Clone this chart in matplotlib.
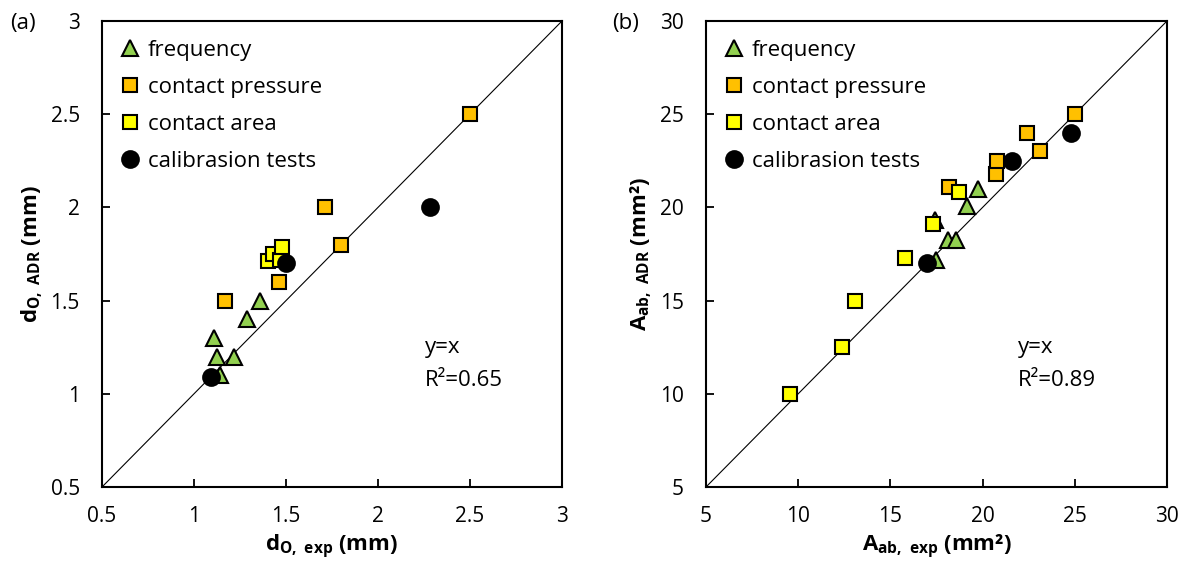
import matplotlib
matplotlib.use("Agg")
import matplotlib.pyplot as plt

plt.rcParams['font.family'] = ['Open Sans', 'DejaVu Sans']
plt.rcParams['mathtext.fontset'] = 'custom'
plt.rcParams['mathtext.rm'] = 'Open Sans'
plt.rcParams['mathtext.it'] = 'Open Sans'
plt.rcParams['mathtext.bf'] = 'Open Sans:bold'

# ---------------- data panel (a) ----------------
a_freq_x = [1.11, 1.125, 1.14, 1.22, 1.29, 1.36]
a_freq_y = [1.30, 1.20, 1.10, 1.20, 1.40, 1.50]
a_pres_x = [1.17, 1.46, 1.71, 1.80, 2.50]
a_pres_y = [1.50, 1.60, 2.00, 1.80, 2.50]
a_area_x = [1.40, 1.43, 1.47, 1.48]
a_area_y = [1.71, 1.75, 1.72, 1.79]
a_cal_x = [1.09, 1.50, 2.28]
a_cal_y = [1.09, 1.70, 2.00]

# ---------------- data panel (b) ----------------
b_freq_x = [17.4, 17.47, 18.1, 18.55, 19.15, 19.75]
b_freq_y = [19.3, 17.18, 18.25, 18.25, 20.1, 21.0]
b_pres_x = [18.2, 20.7, 20.8, 22.4, 23.1, 25.0]
b_pres_y = [21.1, 21.8, 22.5, 24.0, 23.0, 25.0]
b_area_x = [9.55, 12.4, 13.1, 15.8, 17.3, 18.7]
b_area_y = [10.0, 12.5, 15.0, 17.3, 19.1, 20.8]
b_cal_x = [17.0, 21.6, 24.8]
b_cal_y = [17.0, 22.5, 24.0]

labels = ['frequency', 'contact pressure', 'contact area', 'calibrasion tests']
colors = ['#92D050', '#FFC000', '#FFFF00', '#000000']
markers = ['^', 's', 's', 'o']
msizes = [11, 10.5, 10.5, 12]

a_ticks = [0.5, 1, 1.5, 2, 2.5, 3]
a_ticklabels = ['0.5', '1', '1.5', '2', '2.5', '3']
b_ticks = [5, 10, 15, 20, 25, 30]
b_ticklabels = ['5', '10', '15', '20', '25', '30']

fig = plt.figure(figsize=(11.87, 5.63), dpi=100)
axA = fig.add_axes([102/1187, 76/563, 460/1187, 466/563])
axB = fig.add_axes([706/1187, 76/563, 461/1187, 466/563])

def draw(ax, series, ticks, ticklabels, xlabel, ylabel, r2text, txy, panel, px):
    lo, hi = ticks[0], ticks[-1]
    ax.plot([lo, hi], [lo, hi], color='black', lw=0.8, zorder=1)
    for (xs, ys), lab, c, m, ms in zip(series, labels, colors, markers, msizes):
        ax.plot(xs, ys, linestyle='none', marker=m, markersize=ms,
                markerfacecolor=c, markeredgecolor='black', markeredgewidth=1.5,
                label=lab, zorder=3)
    ax.set_xlim(lo, hi)
    ax.set_ylim(lo, hi)
    ax.set_xticks(ticks)
    ax.set_xticklabels(ticklabels)
    ax.set_yticks(ticks)
    ax.set_yticklabels(ticklabels)
    ax.tick_params(direction='in', length=6, width=1.3, labelsize=15, pad=14,
                   top=False, right=False)
    ax.tick_params(axis='y', pad=16)
    for s in ax.spines.values():
        s.set_linewidth(1.5)
    ax.set_xlabel(xlabel, fontsize=16, fontweight='bold', labelpad=4)
    ax.set_ylabel(ylabel, fontsize=16, fontweight='bold', labelpad=4)
    # y=x and R^2 annotation
    ax.text(txy[0], txy[1], 'y=x', transform=ax.transAxes, fontsize=16,
            va='center', ha='left')
    ax.text(txy[0], txy[1] - 33/466, r2text, transform=ax.transAxes, fontsize=16,
            va='center', ha='left')
    ax.legend(loc='upper left', frameon=False, fontsize=16,
              handletextpad=0.0, handlelength=1.6, labelspacing=0.72,
              borderaxespad=0.0, bbox_to_anchor=(0.003, 0.978))
    ax.text(px, 0.995, panel, transform=ax.transAxes, fontsize=16,
            ha='left', va='center')

draw(axA,
     [(a_freq_x, a_freq_y), (a_pres_x, a_pres_y), (a_area_x, a_area_y), (a_cal_x, a_cal_y)],
     a_ticks, a_ticklabels,
     r'$\mathbf{d_{O,\ exp}}$ (mm)', r'$\mathbf{d_{O,\ ADR}}$ (mm)',
     'R²=0.65', ((425-102)/460, (487-347)/466), '(a)', -0.2)
draw(axB,
     [(b_freq_x, b_freq_y), (b_pres_x, b_pres_y), (b_area_x, b_area_y), (b_cal_x, b_cal_y)],
     b_ticks, b_ticklabels,
     r'$\mathbf{A_{ab,\ exp}}$ (mm²)', r'$\mathbf{A_{ab,\ ADR}}$ (mm²)',
     'R²=0.89', ((1018-706)/461, (487-347)/466), '(b)', -0.204)

fig.savefig('out.png', dpi=100)
